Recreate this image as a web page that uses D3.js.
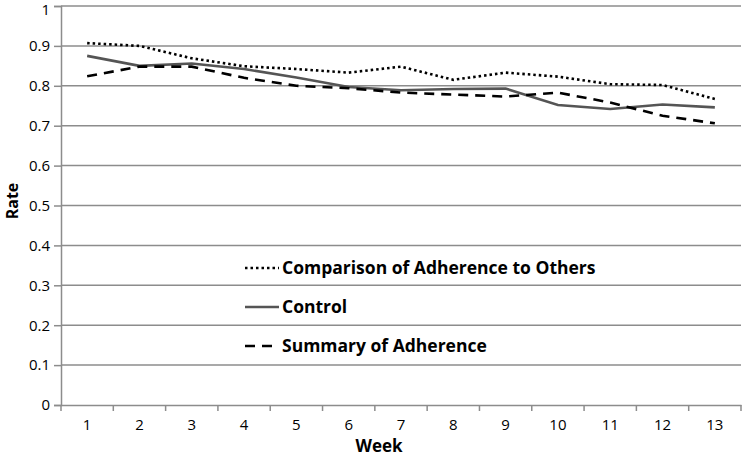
<!DOCTYPE html>
<html><head><meta charset="utf-8">
<script src="https://cdn.jsdelivr.net/npm/d3@7"></script>
<style>body{margin:0;background:#fff;} svg{display:block;}</style>
</head><body>
<svg id="c" width="742" height="456"></svg>
<script>
const weeks = [1,2,3,4,5,6,7,8,9,10,11,12,13];
const yTicks = [0,0.1,0.2,0.3,0.4,0.5,0.6,0.7,0.8,0.9,1];
const comparison = [0.907,0.900,0.869,0.849,0.842,0.833,0.848,0.815,0.833,0.823,0.804,0.802,0.767];
const control    = [0.875,0.850,0.856,0.842,0.821,0.797,0.789,0.792,0.793,0.752,0.742,0.753,0.746];
const summary    = [0.824,0.848,0.848,0.820,0.800,0.794,0.783,0.778,0.773,0.783,0.758,0.725,0.706];
const seriesNames = ["Comparison of Adherence to Others","Control","Summary of Adherence"];

const svg = d3.select("#c");
const font = "'Open Sans', Lato, sans-serif";
const m = {l:61, r:741, t:6, b:405};
const x = d3.scaleBand().domain(weeks).range([m.l, m.r]);
const y = d3.scaleLinear().domain([0,1]).range([m.b, m.t]);

// gridlines
svg.append("g").selectAll("line").data(yTicks.slice(1)).join("line")
  .attr("x1", m.l).attr("x2", m.r).attr("y1", d=>y(d)).attr("y2", d=>y(d))
  .attr("stroke", "#8c8c8c").attr("stroke-width", 1.5);

// y axis
const ya = svg.append("g").attr("transform", `translate(${m.l},0)`)
  .call(d3.axisLeft(y).tickValues(yTicks).tickFormat(d=>d===0||d===1?String(d):d3.format(".1f")(d)).tickSize(7).tickPadding(4));
ya.select(".domain").attr("stroke", "#8c8c8c").attr("stroke-width", 1.5);
ya.selectAll(".tick line").attr("stroke", "#8c8c8c").attr("stroke-width", 1.5);
ya.selectAll("text").attr("font-family", font).attr("font-size", 15).attr("fill", "#000")
  .attr("dy", d=>d===1 ? "0.55em" : "0.32em");

// x axis
const xa = svg.append("g").attr("transform", `translate(0,${m.b})`)
  .call(d3.axisBottom(x).tickSize(0).tickPadding(14));
xa.select(".domain").attr("stroke", "#8c8c8c").attr("stroke-width", 1.5);
xa.selectAll("text").attr("font-family", font).attr("font-size", 15).attr("fill", "#000");
// boundary ticks
const bounds = weeks.map(w=>x(w)).concat([x(weeks[weeks.length-1]) + x.bandwidth()]);
svg.append("g").selectAll("line").data(bounds).join("line")
  .attr("x1", d=>d).attr("x2", d=>d).attr("y1", m.b).attr("y2", m.b+6)
  .attr("stroke", "#8c8c8c").attr("stroke-width", 1.5);

// axis titles
svg.append("text").attr("x", 379).attr("y", 452).attr("text-anchor","middle")
  .attr("font-family", font).attr("font-weight","bold").attr("font-size",17).text("Week");
svg.append("text").attr("transform", `translate(18,${201}) rotate(-90)`).attr("text-anchor","middle")
  .attr("font-family", font).attr("font-weight","bold").attr("font-size",16).text("Rate");

const styles = [
  {data: comparison, color:"#000", dash:"2.5,3", width:2.6},
  {data: control, color:"#555", dash:null, width:2.6},
  {data: summary, color:"#000", dash:"10,7", width:2.6}
];
const line = d3.line().x((d,i)=>x(weeks[i]) + x.bandwidth()/2).y(d=>y(d));
styles.forEach(s=>{
  svg.append("path").datum(s.data).attr("d", line).attr("fill","none")
    .attr("stroke", s.color).attr("stroke-width", s.width)
    .attr("stroke-dasharray", s.dash);
});

// legend
const legY = [268, 307, 346];
styles.forEach((s,i)=>{
  svg.append("line").attr("x1", 245).attr("x2", 279).attr("y1", legY[i]).attr("y2", legY[i])
    .attr("stroke", s.color).attr("stroke-width", s.width).attr("stroke-dasharray", s.dash);
  svg.append("text").attr("x", 282).attr("y", legY[i]).attr("dy","0.35em")
    .attr("font-family", font).attr("font-weight","bold").attr("font-size",17.5).text(seriesNames[i]);
});
</script>
</body></html>
